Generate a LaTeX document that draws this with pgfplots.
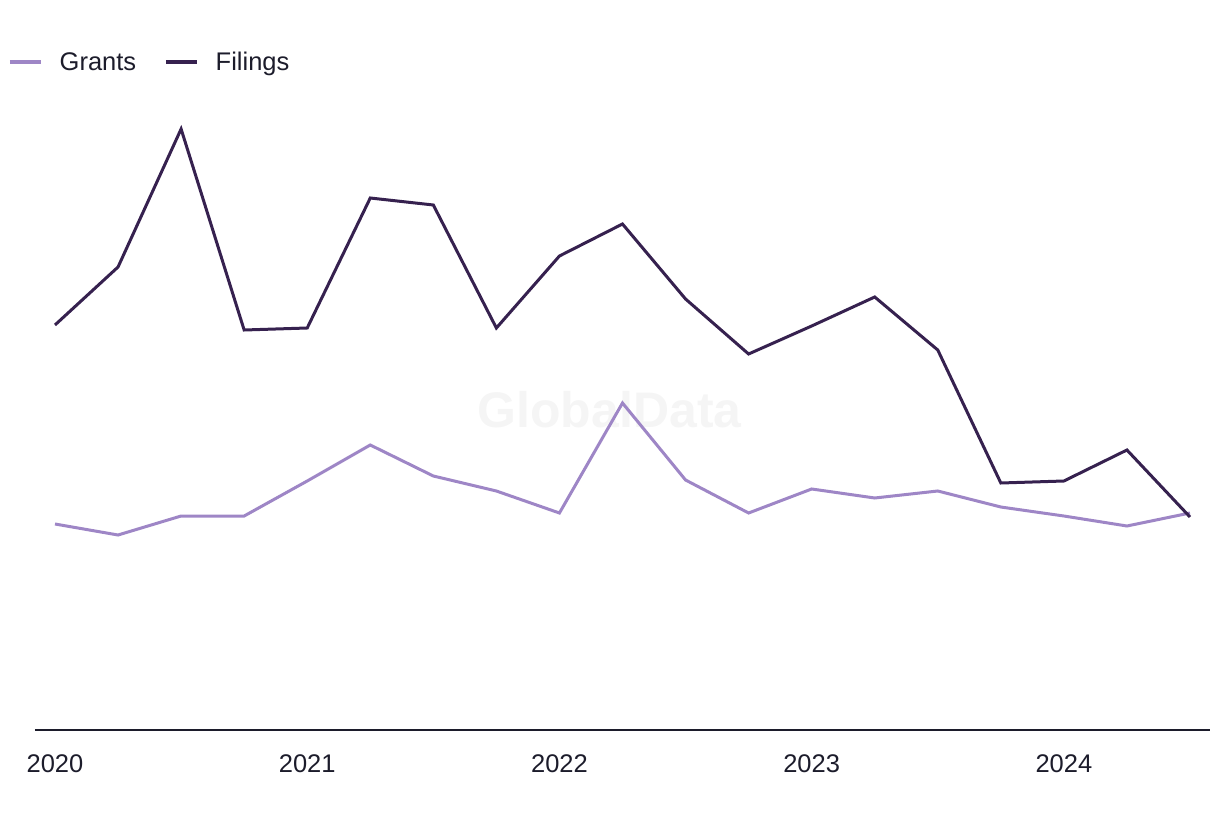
\documentclass[border=0pt]{standalone}
\usepackage{pgfplots}
\pgfplotsset{compat=1.18}
\usepackage{fontspec}
\setmainfont{Liberation Sans}
\definecolor{grants}{HTML}{9E86C6}
\definecolor{filings}{HTML}{36214F}
\definecolor{txt}{HTML}{1C1C2B}
\begin{document}
\begin{tikzpicture}
\begin{axis}[
  scale only axis,
  width=1175pt, height=630pt,
  xmin=-0.317, xmax=18.317,
  ymin=0, ymax=630,
  hide y axis,
  axis x line*=bottom,
  x axis line style={draw=txt, line width=1.5pt, -},
  xtick={0,4,8,12,16},
  xticklabels={2020,2021,2022,2023,2024},
  major tick length=0pt,
  xticklabel style={font=\fontsize{25.5}{30}\selectfont, text=txt, yshift=-21pt},
  /pgf/number format/assume math mode=true,
  clip=false,
  legend columns=2,
  legend style={at={(0,1)}, anchor=west, xshift=-27pt, yshift=38pt,
    draw=none, fill=none, inner sep=0pt,
    font=\fontsize{25.5}{30}\selectfont, text=txt,
    /tikz/every odd column/.append style={column sep=15pt},
    /tikz/every even column/.append style={column sep=26pt}},
  legend image code/.code={\draw[line width=3.5pt, #1] (0pt,0pt) -- (31pt,0pt);},
  legend cell align=left,
]
\coordinate (o) at (rel axis cs:0,0);
\node[text=black!4, font=\bfseries\fontsize{50}{60}\selectfont] at (rel axis cs:0.489,0.508) {GlobalData};
\addplot[grants, line width=3pt] coordinates {
(0,206) (1,195) (2,214) (3,214) (4,249) (5,285) (6,254) (7,239) (8,217) (9,327)
(10,250) (11,217) (12,241) (13,232) (14,239) (15,223) (16,214) (17,204) (18,217)};
\addlegendentry{Grants}
\addplot[filings, line width=3pt] coordinates {
(0,405) (1,463) (2,601) (3,400) (4,402) (5,532) (6,525) (7,402) (8,474) (9,506)
(10,431) (11,376) (12,404) (13,433) (14,380) (15,247) (16,249) (17,280) (18,213)};
\addlegendentry{Filings}
\end{axis}
\path (o) ++(-35pt,-90pt) rectangle ++(1220pt,820pt);
\end{tikzpicture}
\end{document}
